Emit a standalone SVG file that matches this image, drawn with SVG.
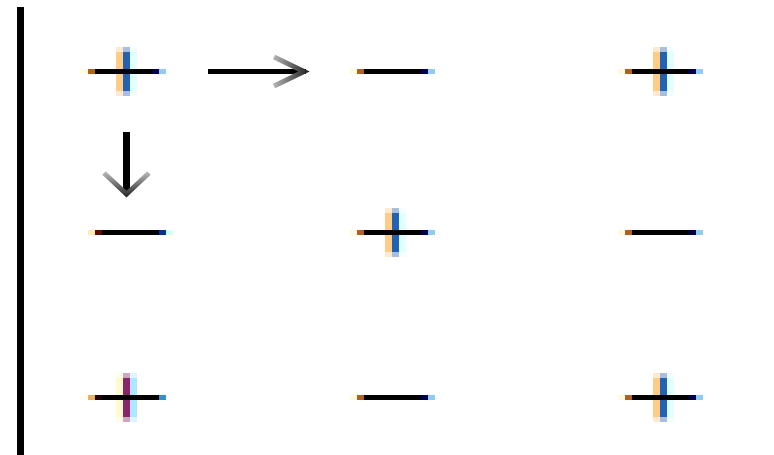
<svg xmlns="http://www.w3.org/2000/svg" width="774" height="455" viewBox="0 0 774 455">
<style>
.k{fill:#000}
.fa{fill:#FFFBE0}
.br{fill:#B2601E}
.nv{fill:#000050}
.lb{fill:#8ECDF2}
.or{fill:#FFCC88}
.bl{fill:#2262B2}
.cy{fill:#E2FFFF}
.soft{opacity:0.4}
.arrowhead{fill:none;stroke-width:5;stroke-linejoin:miter}
</style>
<defs>
<linearGradient id="gr" gradientUnits="userSpaceOnUse" x1="272" y1="0" x2="306" y2="0">
<stop offset="0" stop-color="#BBBBBB"/>
<stop offset="1" stop-color="#2A2A2A"/>
</linearGradient>
<linearGradient id="gd" gradientUnits="userSpaceOnUse" x1="0" y1="172" x2="0" y2="196">
<stop offset="0" stop-color="#BBBBBB"/>
<stop offset="1" stop-color="#2A2A2A"/>
</linearGradient>
<g id="hline">
<rect class="fa" x="-7" y="0" width="7" height="5"/>
<rect class="br" x="0" y="0" width="7" height="5"/>
<rect class="k" x="7" y="0" width="57" height="5"/>
<rect class="nv" x="64" y="0" width="7" height="5"/>
<rect class="lb" x="71" y="0" width="7" height="5"/>
</g>
<g id="vbars">
<rect class="or" x="28" y="-17" width="7" height="39"/>
<rect class="bl" x="35" y="-17" width="7" height="39"/>
<rect class="cy" x="42" y="-17" width="7" height="39"/>
<g class="soft">
<rect class="or" x="28" y="-22" width="7" height="5"/>
<rect class="bl" x="35" y="-22" width="7" height="5"/>
<rect class="cy" x="42" y="-22" width="7" height="5"/>
<rect class="or" x="28" y="22" width="7" height="5"/>
<rect class="bl" x="35" y="22" width="7" height="5"/>
<rect class="cy" x="42" y="22" width="7" height="5"/>
</g>
</g>
</defs>

<rect x="17" y="7" width="7" height="448" fill="#000"/>

<g id="n11" transform="translate(88,69)">
<use href="#vbars"/>
<use href="#hline"/>
</g>
<g id="n12" transform="translate(357,69)">
<use href="#hline"/>
</g>
<g id="n13" transform="translate(625,69)">
<use href="#vbars"/>
<use href="#hline"/>
</g>

<g id="n21" transform="translate(88,230)">
<rect x="0" y="0" width="7" height="5" fill="#FFEBB8"/>
<rect x="7" y="0" width="7" height="5" fill="#5A0C00"/>
<rect x="14" y="0" width="57" height="5" fill="#000"/>
<rect x="71" y="0" width="7" height="5" fill="#003399"/>
<rect x="78" y="0" width="7" height="5" fill="#D0FFFF"/>
</g>
<g id="n22" transform="translate(357,230)">
<use href="#vbars"/>
<use href="#hline"/>
</g>
<g id="n23" transform="translate(625,230)">
<use href="#hline"/>
</g>

<g id="n31" transform="translate(88,395)">
<rect x="28" y="-17" width="7" height="39" fill="#FFFACD"/>
<rect x="35" y="-17" width="7" height="39" fill="#882468"/>
<rect x="42" y="-17" width="7" height="39" fill="#AEE6FF"/>
<g class="soft">
<rect x="28" y="-22" width="7" height="5" fill="#FFFACD"/>
<rect x="35" y="-22" width="7" height="5" fill="#882468"/>
<rect x="42" y="-22" width="7" height="5" fill="#AEE6FF"/>
<rect x="28" y="22" width="7" height="5" fill="#FFFACD"/>
<rect x="35" y="22" width="7" height="5" fill="#882468"/>
<rect x="42" y="22" width="7" height="5" fill="#AEE6FF"/>
</g>
<rect x="-7" y="0" width="7" height="5" fill="#FFFDF0"/>
<rect x="0" y="0" width="7" height="5" fill="#E8B060"/>
<rect x="7" y="0" width="7" height="5" fill="#200010"/>
<rect x="14" y="0" width="57" height="5" fill="#000"/>
<rect x="71" y="0" width="7" height="5" fill="#3090D0"/>
</g>
<g id="n32" transform="translate(357,395)">
<use href="#hline"/>
</g>
<g id="n33" transform="translate(625,395)">
<use href="#vbars"/>
<use href="#hline"/>
</g>

<g id="connectors">
<rect x="208" y="69" width="98" height="5" fill="#000"/>
<polyline class="arrowhead" stroke="url(#gr)" points="274,57 304,71.5 274,86"/>
<rect x="123" y="132" width="7" height="60" fill="#000"/>
<polyline class="arrowhead" stroke="url(#gd)" points="104,173 126.5,194 149,173"/>
</g>
</svg>
